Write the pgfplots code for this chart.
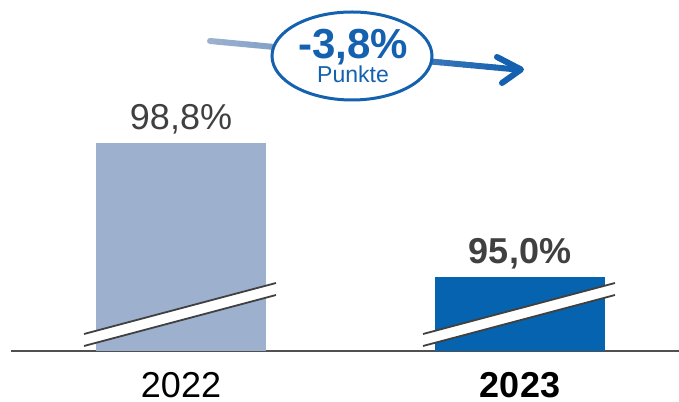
\documentclass[border=0pt]{standalone}
\usepackage{pgfplots}
\pgfplotsset{compat=1.18}
\usepackage{fontspec}
\setmainfont{Liberation Sans}
\definecolor{barA}{HTML}{9DB0CE}
\definecolor{barB}{HTML}{0563B0}
\definecolor{txt}{HTML}{404040}
\definecolor{axl}{HTML}{505050}
\definecolor{blu}{HTML}{1461B0}
\begin{document}
\begin{tikzpicture}[x=1pt,y=1pt]
\useasboundingbox (0,0) rectangle (679,401);
\begin{axis}[
  at={(11pt,50pt)}, anchor=south west,
  scale only axis, width=668pt, height=351pt,
  xmin=-0.5015, xmax=1.469, ymin=92.9015, ymax=102.855,
  axis x line=bottom, axis y line=none,
  axis line style={-, axl, line width=2.5pt},
  xtick={0,1}, xticklabels={2022,\textbf{2023}},
  major tick length=0pt, ytick=\empty,
  xticklabel style={font=\fontsize{36}{40}\selectfont, text=black, anchor=base, inner sep=0pt, yshift=-46pt},
  ybar, bar width=170pt,
  point meta=explicit symbolic,
  nodes near coords,
  every node near coord/.append style={font=\fontsize{36}{40}\selectfont, text=txt, anchor=base, inner sep=0pt, yshift=13pt},
]
\addplot[fill=barA, draw=none, bar shift=0pt] coordinates {(0,98.8) [98,8\%]};
\addplot[fill=barB, draw=none, bar shift=0pt, every node near coord/.append style={font=\bfseries\fontsize{36}{40}\selectfont}] coordinates {(1,95.0) [95,0\%]};
\end{axis}
% break marks
\foreach \c in {181,520} {
  \fill[white] (\c-97,67) -- (\c+95,118) -- (\c+95,106) -- (\c-97,55) -- cycle;
  \draw[txt, line width=1.8pt] (\c-97,67) -- (\c+95,118);
  \draw[txt, line width=1.8pt] (\c-97,55) -- (\c+95,106);
}
% gradient arrow
\foreach \i in {0,...,39} {
  \pgfmathtruncatemacro\p{\i*100/39}
  \pgfmathsetmacro\xa{210+308*\i/40}
  \pgfmathsetmacro\ya{360-28.6*\i/40}
  \pgfmathsetmacro\xb{210+308*(\i+1)/40}
  \pgfmathsetmacro\yb{360-28.6*(\i+1)/40}
  \colorlet{cc}{blu!\p!barA}
  \draw[cc, line width=6pt, line cap=round] (\xa,\ya) -- (\xb,\yb);
}
\draw[blu, line width=6pt, line cap=round, line join=round] (497,344) -- (521,331.5) -- (502,318);
% ellipse
\draw[blu, line width=3pt, fill=white] (352,345) ellipse [x radius=80, y radius=44];
\node[anchor=base, text=blu, inner sep=0pt, font=\bfseries\fontsize{42}{46}\selectfont] at (353,342) {-3,8\%};
\node[anchor=base, text=blu, inner sep=0pt, font=\fontsize{23}{26}\selectfont] at (353,318) {Punkte};
\end{tikzpicture}
\end{document}
